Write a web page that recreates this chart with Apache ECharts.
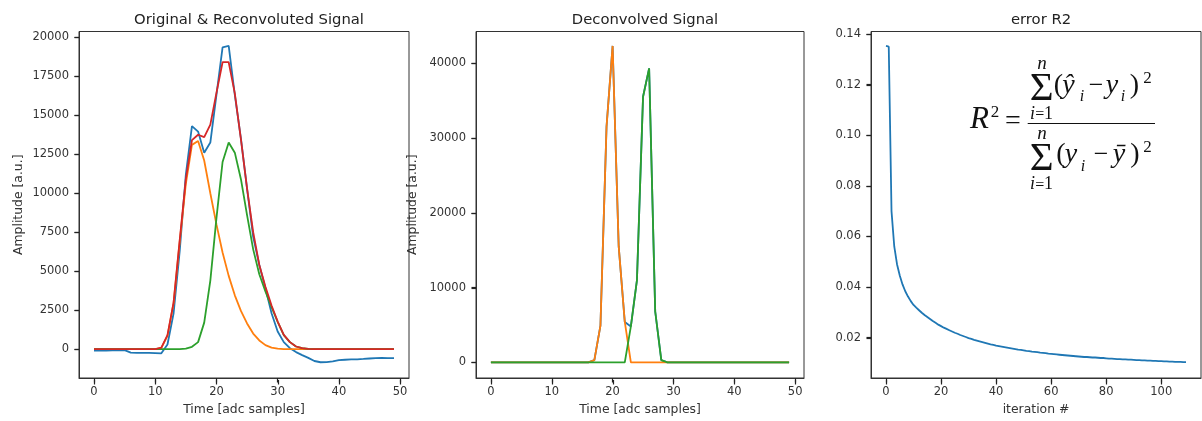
<!DOCTYPE html>
<html><head><meta charset="utf-8">
<script src="https://cdn.jsdelivr.net/npm/echarts@6/dist/echarts.min.js"></script>
<style>html,body{margin:0;padding:0;background:#fff}#c{width:1202px;height:421px}</style>
</head><body><div id="c"></div>
<script>
// ---- data ----
const originalSignal = [-90,-90,-85,-80,-70,-60,-220,-235,-240,-245,-250,-270,300,2300,6300,11200,14300,13950,12600,13250,16300,19350,19450,16300,13500,10300,7200,5400,3900,2300,1130,450,60,-190,-380,-560,-760,-840,-830,-780,-700,-680,-660,-650,-630,-600,-570,-560,-570,-580];
const component1 = [0,0,0,0,0,0,0,0,0,0,0,80,850,2950,6900,10600,13100,13350,12100,10000,8000,6200,4700,3450,2450,1650,1000,560,260,100,30,0,0,0,0,0,0,0,0,0,0,0,0,0,0,0,0,0,0,0];
const component2 = [0,0,0,0,0,0,0,0,0,0,0,0,0,0,0,30,150,450,1700,4400,8400,12000,13250,12600,10900,8600,6400,4800,3700,2700,1750,900,450,170,60,20,0,0,0,0,0,0,0,0,0,0,0,0,0,0];
const reconvoluted = [0,0,0,0,0,0,0,0,0,0,0,100,900,3000,7000,10900,13400,13750,13600,14400,16430,18400,18400,16400,13450,10300,7500,5400,4000,2800,1770,920,450,170,60,20,0,0,0,0,0,0,0,0,0,0,0,0,0,0];
const deconvTotal = [0,0,0,0,0,0,0,0,0,0,0,0,0,0,0,0,0,300,4900,31500,42300,15500,5400,4800,11000,35500,39300,6800,300,0,0,0,0,0,0,0,0,0,0,0,0,0,0,0,0,0,0,0,0,0];
const deconv1 = [0,0,0,0,0,0,0,0,0,0,0,0,0,0,0,0,0,300,4900,31500,42300,15500,5400,0,0,0,0,0,0,0,0,0,0,0,0,0,0,0,0,0,0,0,0,0,0,0,0,0,0,0];
const deconv2 = [0,0,0,0,0,0,0,0,0,0,0,0,0,0,0,0,0,0,0,0,0,0,0,4800,11000,35500,39300,6800,300,0,0,0,0,0,0,0,0,0,0,0,0,0,0,0,0,0,0,0,0,0];
const errorR2 = [0.1353,0.1350,0.0700,0.0560,0.0490,0.0445,0.0410,0.0383,0.0362,0.0344,
0.0329,0.0318,0.0308,0.0298,0.0289,0.0281,0.0273,0.0265,0.0258,0.0251,
0.0245,0.0239,0.0234,0.0229,0.0224,0.0219,0.0215,0.0210,0.0206,0.0202,
0.0198,0.0195,0.0191,0.0188,0.0185,0.0182,0.0179,0.0176,0.0173,0.0171,
0.0168,0.0166,0.0164,0.0162,0.0160,0.0158,0.0156,0.0154,0.0152,0.0151,
0.0149,0.0147,0.0146,0.0144,0.0143,0.0142,0.0140,0.0139,0.0138,0.0136,
0.0135,0.0134,0.0133,0.0132,0.0131,0.0130,0.0129,0.0128,0.0127,0.0126,
0.0125,0.0124,0.0123,0.0123,0.0122,0.0121,0.0121,0.0120,0.0119,0.0119,
0.0118,0.0117,0.0117,0.0116,0.0115,0.0115,0.0114,0.0114,0.0113,0.0113,
0.0112,0.0111,0.0111,0.0110,0.0110,0.0109,0.0109,0.0108,0.0108,0.0107,
0.0107,0.0106,0.0106,0.0105,0.0105,0.0104,0.0104,0.0104,0.0103,0.0103];
const timeTicks = [0,10,20,30,40,50];
const amp1Ticks = [0,2500,5000,7500,10000,12500,15000,17500,20000];
const amp2Ticks = [0,10000,20000,30000,40000];
const iterTicks = [0,20,40,60,80,100];
const errTicks = [0.02,0.04,0.06,0.08,0.10,0.12,0.14];
const titles = ['Original & Reconvoluted Signal','Deconvolved Signal','error R2'];

// ---- styling / layout ----
const F = 'DejaVu Sans';
const TXT = '#333';
const C = {blue:'#1f77b4', orange:'#ff7f0e', green:'#2ca02c', red:'#d62728'};
const grids = [
  {left:79, top:31.5, width:330, height:348.5},
  {left:476, top:31.5, width:328, height:348.5},
  {left:871, top:31.5, width:330, height:348.5}
];
const TICK_LEN = 4.5;
function xAx(gi, min, max, ticks, name){
  return {type:'value', gridIndex:gi, min:min, max:max, name:name, nameLocation:'middle', nameGap:26,
    nameTextStyle:{fontFamily:F, fontSize:12.4, color:TXT},
    axisLine:{show:true, onZero:false, lineStyle:{color:'#333', width:1}}, splitLine:{show:false},
    axisTick:{show:true, length:TICK_LEN, lineStyle:{color:'#222', width:1.2}, customValues:ticks},
    axisLabel:{fontFamily:F, fontSize:11.5, color:TXT, margin:8, customValues:ticks}};
}
function yAx(gi, min, max, ticks, name, gap, fmt){
  return {type:'value', gridIndex:gi, min:min, max:max, name:name, nameLocation:'middle', nameGap:gap,
    nameTextStyle:{fontFamily:F, fontSize:12.4, color:TXT},
    axisLine:{show:true, onZero:false, lineStyle:{color:'#333', width:1}}, splitLine:{show:false},
    axisTick:{show:true, length:TICK_LEN, lineStyle:{color:'#222', width:1.2}, customValues:ticks},
    axisLabel:{fontFamily:F, fontSize:11.5, color:TXT, margin:10, customValues:ticks, formatter:fmt}};
}
function line(gi, arr, color){
  return {type:'line', xAxisIndex:gi, yAxisIndex:gi, data:arr.map((v,i)=>[i,v]),
    showSymbol:false, symbol:'none', lineStyle:{color:color, width:1.8}, itemStyle:{color:color},
    silent:true, animation:false};
}
// formula glyphs: [text, centerX, middleY, size, italic]
const FORMULA = [
  ['R',979.5,120.2,31,true],['2',995,112.5,17,false],['=',1013,121.2,28,false],
  ['Σ',1041.7,88.8,41,false],['n',1042,63.5,19,true],
  ['i',1032.5,113.9,18,true],['=',1039.8,114.6,16,false],['1',1048.5,113.9,18,false],
  ['(',1058.5,86,28,false],['ŷ',1068.5,86,28,true],['i',1082,96.3,16,true],
  ['−',1096,86,26,false],['y',1112,86,28,true],['i',1123,96.3,16,true],
  [')',1134.5,86,28,false],['2',1147.5,78.6,17,false],
  ['Σ',1041.7,159.4,41,false],['n',1042,133.5,19,true],
  ['i',1032.5,184.6,18,true],['=',1039.8,185.3,16,false],['1',1048.5,184.6,18,false],
  ['(',1061,155,28,false],['y',1071,155,28,true],['i',1083,166.3,16,true],
  ['−',1101,155,26,false],['ȳ',1119,155,28,true],[')',1135,155,28,false],['2',1147.5,147.9,17,false]
];
const graphics = FORMULA.map(g=>({type:'text', x:g[1], y:g[2], silent:true,
  style:{text:g[0], fontFamily:'Liberation Serif', fontSize:g[3], fontStyle:g[4]?'italic':'normal',
    fill:'#111', align:'center', verticalAlign:'middle'}}));
graphics.push({type:'line', silent:true, shape:{x1:1027.7,y1:123.5,x2:1155,y2:123.5}, style:{stroke:'#111', lineWidth:1}});

const centers = [244, 640, 1036];
const option = {
  animation:false,
  backgroundColor:'#fff',
  title: titles.map((t,i)=>({text:t, left:centers[i], top:8, textAlign:'center',
    textStyle:{fontFamily:F, fontSize:14.8, fontWeight:'normal', color:'#222'}})),
  grid: grids.map(g=>Object.assign({show:true, borderColor:'#333', borderWidth:1, backgroundColor:'transparent', containLabel:false}, g)),
  xAxis:[
    xAx(0,-2.45,51.45,timeTicks,'Time [adc samples]'),
    xAx(1,-2.45,51.45,timeTicks,'Time [adc samples]'),
    xAx(2,-5.45,114.45,iterTicks,'iteration #')
  ],
  yAxis:[
    yAx(0,-1850,20370,amp1Ticks,'Amplitude [a.u.]',54, v=>String(v)),
    yAx(1,-2090,44230,amp2Ticks,'Amplitude [a.u.]',57, v=>String(v)),
    yAx(2,0.004,0.141,errTicks,'',40, v=>v.toFixed(2))
  ],
  series:[
    line(0, originalSignal, C.blue),
    line(0, component1, C.orange),
    line(0, component2, C.green),
    line(0, reconvoluted, C.red),
    line(1, deconvTotal, C.blue),
    line(1, deconv1, C.orange),
    line(1, deconv2, C.green),
    line(2, errorR2, C.blue)
  ],
  graphic: graphics
};
const chart = echarts.init(document.getElementById('c'), null, {renderer:'canvas'});
chart.setOption(option);

// outward tick marks placed through the axes' own scales (matplotlib-style)
const xTickSets = [timeTicks, timeTicks, iterTicks];
const yTickSets = [amp1Ticks, amp2Ticks, errTicks];
const tickMarks = [];
grids.forEach((g, gi) => {
  const yb = g.top + g.height;
  xTickSets[gi].forEach(t => {
    const px = Math.round(chart.convertToPixel({xAxisIndex: gi}, t)) + 0.5;
    tickMarks.push({type:'line', silent:true, z:10,
      shape:{x1:px, y1:yb, x2:px, y2:yb + TICK_LEN}, style:{stroke:'#222', lineWidth:1.2}});
  });
  yTickSets[gi].forEach(t => {
    const py = Math.round(chart.convertToPixel({yAxisIndex: gi}, t)) + 0.5;
    tickMarks.push({type:'line', silent:true, z:10,
      shape:{x1:g.left - TICK_LEN, y1:py, x2:g.left, y2:py}, style:{stroke:'#222', lineWidth:1.2}});
  });
});
chart.setOption({graphic: graphics.concat(tickMarks)});
</script></body></html>
